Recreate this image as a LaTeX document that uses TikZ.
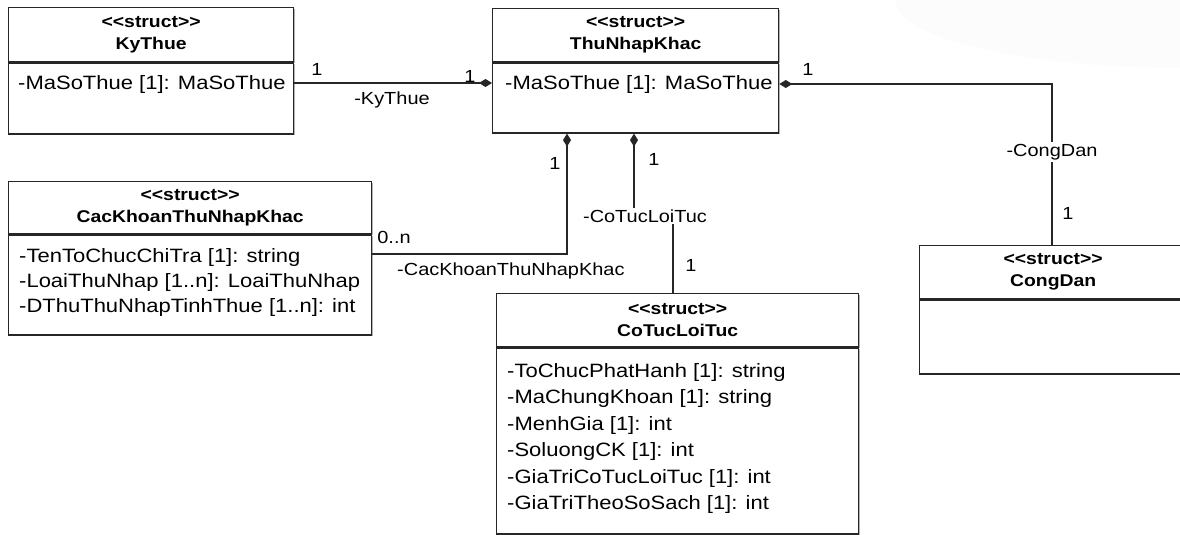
\documentclass[tikz,border=0pt]{standalone}
\usepackage{fontspec}
\setmainfont[FakeStretch=1.14]{Liberation Sans}
\usetikzlibrary{arrows.meta}
\usetikzlibrary{shadows}
\newcommand{\strc}{<{}<struct>{}>}
\newcommand{\attrfont}{\fontsize{19.3}{26}\selectfont}
\newcommand{\hdrfont}{\bfseries\fontsize{17}{22}\selectfont}
\newcommand{\lblfont}{\fontsize{17.5}{20}\selectfont}
\tikzset{box/.style={draw=black!85, line width=1.3pt, fill=white, anchor=north west, inner sep=0pt,
   drop shadow={shadow xshift=1.5pt, shadow yshift=-1.5pt, fill=black!30, opacity=1}},
 hdr/.style={box, font=\hdrfont, align=center},
 attr/.style={anchor=base west, font=\attrfont, inner sep=0pt},
 link/.style={draw=black!85, line width=1.2pt},
 comp/.style={-{Diamond[length=13pt,width=8pt]}},
 lbl/.style={font=\lblfont, inner sep=1pt},
 role/.style={lbl, fill=white, inner sep=2pt},
 }

\begin{document}
\begin{tikzpicture}[x=1pt, y=-1pt]
        \useasboundingbox (0,0) rectangle (1180,535);
        \fill[black!1.2] (1180,0) ellipse [x radius=285, y radius=68];
        % classes
        \node[hdr, minimum width=285pt, minimum height=54pt] (ky) at (8,7) {\strc\\KyThue};
        \node[box, minimum width=285pt, minimum height=71pt] (kyB) at (ky.south west) {};
        \node[attr] (kyA) at (18,89) {-MaSoThue [1]: MaSoThue};
        \node[hdr, minimum width=286pt, minimum height=53pt] (tnk) at (492,8) {\strc\\ThuNhapKhac};
        \node[box, minimum width=286pt, minimum height=70pt] (tnkB) at (tnk.south west) {};
        \node[attr] (tnkA) at (505,89) {-MaSoThue [1]: MaSoThue};
        \node[hdr, minimum width=363pt, minimum height=52pt] (ckh) at (8,181) {\strc\\CacKhoanThuNhapKhac};
        \node[box, minimum width=363pt, minimum height=100pt] (ckhB) at (ckh.south west) {};
        \node[attr] (ckhA1) at (19,262) {-TenToChucChiTra [1]: string};
        \node[attr] (ckhA2) at (19,287) {-LoaiThuNhap [1..n]: LoaiThuNhap};
        \node[attr] (ckhA3) at (19,312) {-DThuThuNhapTinhThue [1..n]: int};
        \node[hdr, minimum width=362pt, minimum height=53pt] (ctl) at (496,293) {\strc\\CoTucLoiTuc};
        \node[box, minimum width=362pt, minimum height=186pt] (ctlB) at (ctl.south west) {};
        \node[attr] (ctlA1) at (507,377) {-ToChucPhatHanh [1]: string};
        \node[attr] (ctlA2) at (507,403.5) {-MaChungKhoan [1]: string};
        \node[attr] (ctlA3) at (507,430) {-MenhGia [1]: int};
        \node[attr] (ctlA4) at (507,456.5) {-SoluongCK [1]: int};
        \node[attr] (ctlA5) at (507,483) {-GiaTriCoTucLoiTuc [1]: int};
        \node[attr] (ctlA6) at (507,509.5) {-GiaTriTheoSoSach [1]: int};
        \node[hdr, minimum width=267pt, minimum height=53pt] (cd) at (919,245) {\strc\\CongDan};
        \node[box, minimum width=267pt, minimum height=74pt] (cdB) at (cd.south west) {};
        % bends
        \coordinate (kyRow) at (380,83);
        \coordinate (cdTurn) at (1052,84);
        \coordinate (ckhTurn) at (567,254);
        \coordinate (ctlUp) at (634,216);
        \coordinate (ctlDn) at (673,216);
        % links
        \draw[link, comp] (kyB.east |- kyRow) -- (tnkB.west |- kyRow);
        \draw[link, comp] (cd.north -| cdTurn) -- (cdTurn) -- (tnkB.east |- cdTurn);
        \draw[link, comp] (ckhB.east |- ckhTurn) -- (ckhTurn) -- (tnkB.south -| ckhTurn);
        \draw[link] (ctl.north -| ctlDn) -- (ctlDn) -- (ctlUp);
        \draw[link, line width=2.2pt, comp] (ctlUp) -- (tnkB.south -| ctlUp);
        % labels
        \node[lbl] (m1) at (317,69) {1};
        \node[lbl] (m2) at (470,76) {1};
        \node[lbl] (r1) at (392,100) {-KyThue};
        \node[lbl] (m3) at (808,69) {1};
        \node[role] (r2) at (1052,152) {-CongDan};
        \node[lbl] (m4) at (1068,213) {1};
        \node[lbl] (m5) at (394,237) {0..n};
        \node[lbl, anchor=west] (r3) at (396,271) {-CacKhoanThuNhapKhac};
        \node[lbl] (m6) at (555,163) {1};
        \node[lbl] (m7) at (654,159) {1};
        \node[role] (r4) at (645,216) {-CoTucLoiTuc};
        \node[lbl] (m8) at (691,265) {1};
    \end{tikzpicture}
\end{document}
